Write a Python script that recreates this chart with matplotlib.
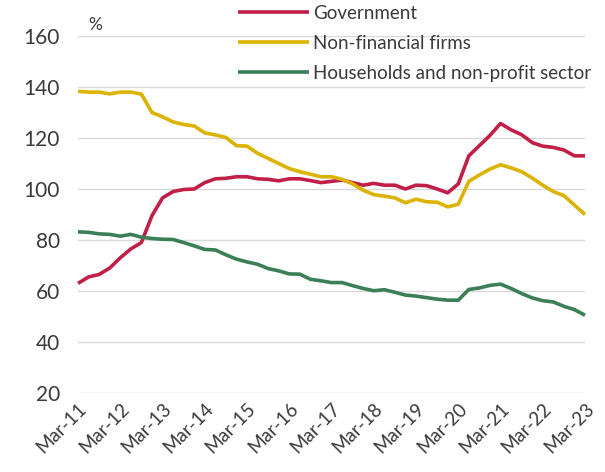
import matplotlib
matplotlib.use('Agg')
import matplotlib.pyplot as plt
import numpy as np

# quarterly debt ratios, Mar-11 .. Mar-23
quarters = np.arange(49)
tick_labels = ['Mar-%02d' % y for y in range(11, 24)]

government = [63, 65.5, 66.5, 69, 73, 76.5, 79, 89.5, 96.5, 99, 99.8, 100,
              102.5, 104, 104.2, 104.8, 104.8, 104, 103.8, 103.2, 104, 104, 103.3, 102.5,
              103, 103.5, 102.5, 101.5, 102.2, 101.5, 101.5, 100, 101.5, 101.3, 100, 98.5,
              102, 113, 117, 121, 125.7, 123.2, 121.3, 118.2, 116.8, 116.3, 115.3, 113, 113]
nonfinancial = [138.3, 138, 138, 137.3, 138, 138, 137.2, 130, 128.3, 126.3, 125.3, 124.7,
                122, 121.2, 120.2, 117, 116.8, 114, 112, 110, 108, 106.8, 105.8, 104.8,
                104.8, 103.8, 102, 99.5, 97.8, 97.2, 96.5, 94.6, 96, 95, 94.8, 93,
                94, 103, 105.5, 107.8, 109.5, 108.3, 106.8, 104.3, 101.5, 99, 97.4, 93.7, 90]
households = [83.2, 83, 82.4, 82.2, 81.5, 82.2, 81.1, 80.6, 80.3, 80.2, 79, 77.7,
              76.3, 76.1, 74.2, 72.5, 71.4, 70.5, 68.8, 67.9, 66.7, 66.6, 64.6, 64,
              63.3, 63.3, 62.1, 61, 60.1, 60.5, 59.5, 58.4, 58, 57.4, 56.8, 56.4,
              56.4, 60.6, 61.2, 62.2, 62.7, 61, 59, 57.3, 56.2, 55.7, 54, 52.7, 50.5]

plt.rcParams['font.family'] = ['Lato', 'DejaVu Sans']
text_col = '#3a3a3a'

fig = plt.figure(figsize=(6.05, 4.72), dpi=100)
ax = fig.add_axes([78 / 605, 1 - 393 / 472, (585 - 78) / 605, (393 - 36) / 472])

ax.plot(quarters, government, color='#C21F48', lw=2.6, label='Government', solid_capstyle='butt')
ax.plot(quarters, nonfinancial, color='#DBB300', lw=2.6, label='Non-financial firms', solid_capstyle='butt')
ax.plot(quarters, households, color='#3A7F55', lw=2.6, label='Households and non-profit sector', solid_capstyle='butt')

ax.set_xlim(0, 48)
ax.set_ylim(20, 160)
ax.set_yticks(range(20, 161, 20))
ax.set_xticks(quarters[::4])
ax.set_xticklabels(tick_labels, rotation=45, ha='right', rotation_mode='anchor')
ax.grid(axis='y', color='#D9D9D9', lw=1)
ax.set_axisbelow(True)
for s in ax.spines.values():
    s.set_visible(False)
ax.tick_params(length=0, colors=text_col)
ax.tick_params(axis='y', labelsize=15, pad=13)
ax.tick_params(axis='x', labelsize=13.5, pad=5)
for ln in ax.lines:
    ln.set_clip_on(False)

ax.text(1.0, 161.0, '%', fontsize=12.5, color=text_col, ha='left', va='bottom')

fig.legend(loc='upper left', bbox_to_anchor=(238 / 605, 1 - 5 / 472), frameon=False,
           prop={'size': 13.5}, handlelength=3.8, handletextpad=0.2, labelspacing=0.68,
           borderpad=0, borderaxespad=0, labelcolor=text_col)

fig.savefig('out.png', dpi=100)
